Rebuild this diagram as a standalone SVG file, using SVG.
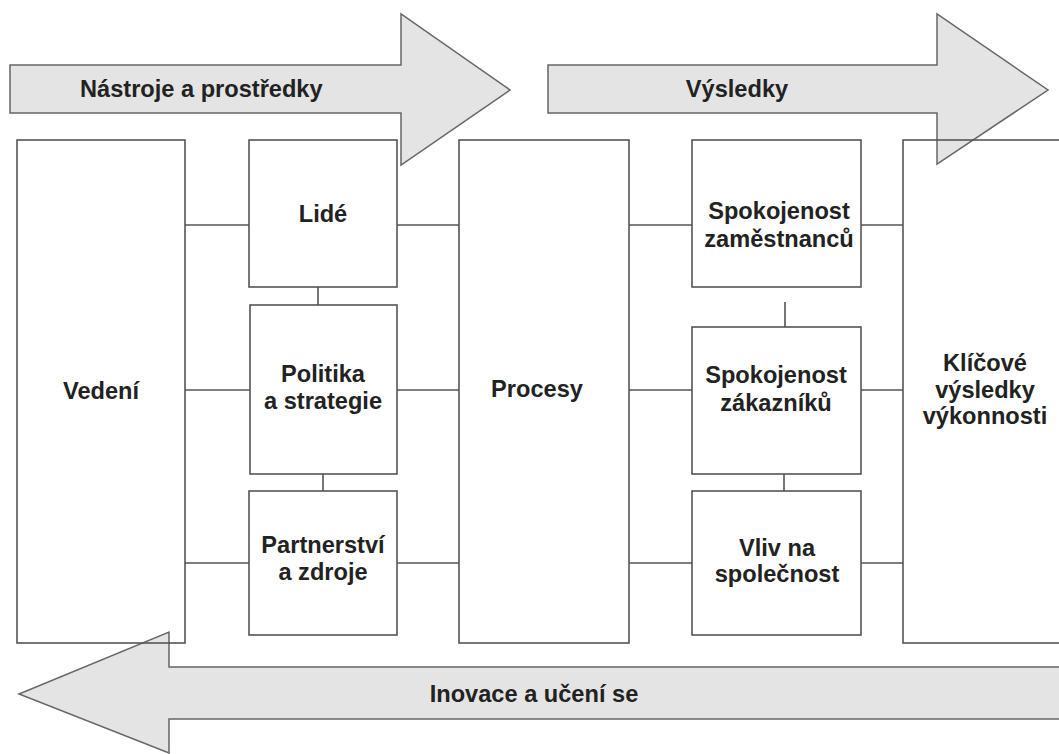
<svg xmlns="http://www.w3.org/2000/svg" width="1059" height="754" viewBox="0 0 1059 754">
<style>
.arrow{fill:#e4e4e4;stroke:#666;stroke-width:1.5;stroke-linejoin:miter}
.box{fill:none;stroke:#555;stroke-width:1.6}
.conn{stroke:#555;stroke-width:1.6;fill:none}
text{font-family:"Liberation Sans",Arial,sans-serif;font-weight:bold;font-size:23.6px;fill:#222;text-anchor:middle}
</style>
<rect width="1059" height="754" fill="#fff"/>
<g id="arrows">
<polygon id="arrow-nastroje" class="arrow" points="10,65 401,65 401,14 510,90 401,165 401,113 10,113"/>
<polygon id="arrow-vysledky" class="arrow" points="548,65 937,65 937,14 1048,90 937,164 937,113 548,113"/>
<polygon id="arrow-inovace" class="arrow" points="1065,667 169,667 169,632 19,694 169,753 169,719 1065,719"/>
<text x="80" y="97" style="text-anchor:start">Nástroje a prostředky</text>
<text x="737" y="97">Výsledky</text>
<text x="534" y="702">Inovace a učení se</text>
</g>
<g id="connectors">
<path class="conn" d="M185,225H249M397,225H459M629,225H692M861,225H903"/>
<path class="conn" d="M185,390H250M397,390H459M629,390H692M861,390H903"/>
<path class="conn" d="M185,563H249M397,563H459M629,563H692M861,563H903"/>
<path class="conn" d="M318,287V305M323,474V491M785,302V327M784,474V491"/>
</g>
<g id="vedeni"><rect class="box" x="17" y="140" width="168" height="503"/><text x="101" y="399">Vedení</text></g>
<g id="lide"><rect class="box" x="249" y="140" width="148" height="147"/><text x="323" y="222">Lidé</text></g>
<g id="politika"><rect class="box" x="250" y="305" width="147" height="169"/><text x="323" y="382">Politika</text><text x="323" y="409">a strategie</text></g>
<g id="partnerstvi"><rect class="box" x="249" y="491" width="148" height="144"/><text x="323" y="553">Partnerství</text><text x="323" y="580">a zdroje</text></g>
<g id="procesy"><rect class="box" x="459" y="140" width="170" height="503"/><text x="537" y="397">Procesy</text></g>
<g id="spok-zam"><rect class="box" x="692" y="140" width="169" height="147"/><text x="779" y="219">Spokojenost</text><text x="779" y="247">zaměstnanců</text></g>
<g id="spok-zak"><rect class="box" x="692" y="327" width="169" height="147"/><text x="776" y="383">Spokojenost</text><text x="776" y="411">zákazníků</text></g>
<g id="vliv"><rect class="box" x="692" y="491" width="169" height="144"/><text x="777" y="556">Vliv na</text><text x="777" y="582">společnost</text></g>
<g id="klicove"><rect class="box" x="903" y="140" width="170" height="503"/><text x="985" y="371">Klíčové</text><text x="985" y="398">výsledky</text><text x="985" y="424">výkonnosti</text></g>
</svg>
